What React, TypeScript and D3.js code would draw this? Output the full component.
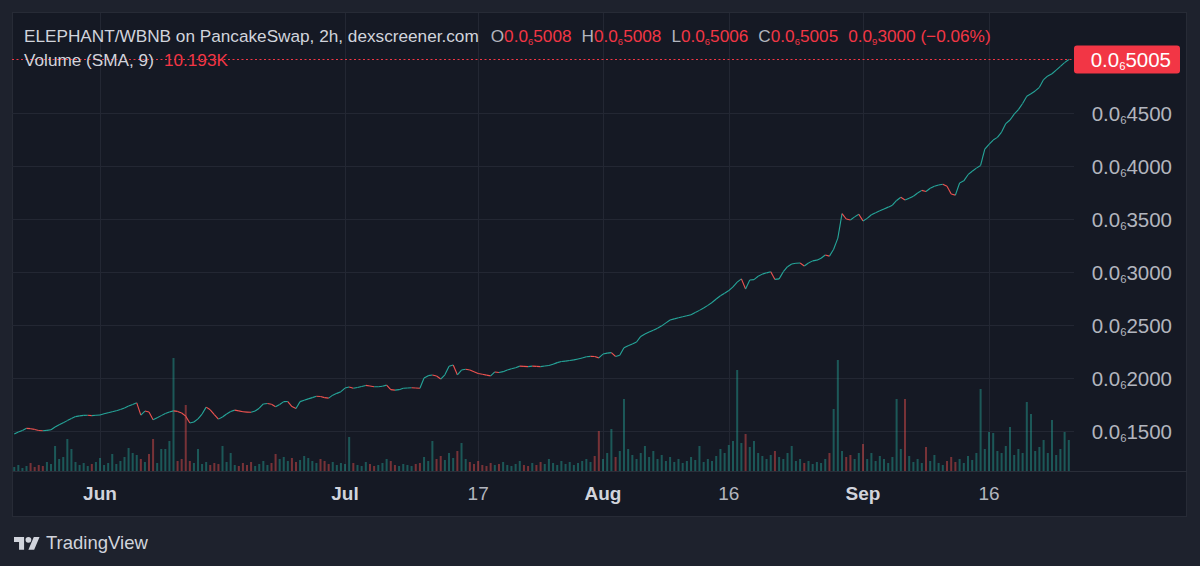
import React from "react";
import * as d3 from "d3";

// 12h closes, in units of 0.0₆ (i.e. 1e-10 BNB), starting May 21 12:00
const closes = [
  1472, 1490, 1505, 1525, 1522, 1515, 1505, 1502, 1506, 1512,
  1538, 1558, 1577, 1598, 1618, 1636, 1643, 1647, 1648, 1645,
  1648, 1651, 1662, 1673, 1682, 1691, 1702, 1718, 1735, 1751,
  1766, 1650, 1688, 1680, 1606, 1625, 1645, 1665, 1680, 1690,
  1685, 1670, 1640, 1575, 1585, 1615, 1660, 1725, 1700, 1655,
  1612, 1632, 1660, 1684, 1697, 1690, 1682, 1678, 1677, 1688,
  1715, 1755, 1760, 1752, 1728, 1750, 1777, 1778, 1730, 1712,
  1777, 1790, 1803, 1815, 1828, 1826, 1815, 1810, 1838, 1855,
  1871, 1905, 1915, 1903, 1910, 1920, 1930, 1925, 1917, 1918,
  1922, 1933, 1890, 1886, 1890, 1903, 1906, 1908, 1905, 1903,
  2000, 2022, 2028, 2019, 1990, 2030, 2110, 2123, 2030, 2075,
  2082, 2075, 2058, 2042, 2036, 2027, 2020, 2057, 2052, 2060,
  2075, 2087, 2097, 2112, 2110, 2107, 2112, 2110, 2107, 2113,
  2118, 2129, 2145, 2155, 2159, 2165, 2171, 2180, 2189, 2200,
  2204, 2203, 2190, 2226, 2235, 2239, 2203, 2215, 2285, 2305,
  2320, 2340, 2392, 2415, 2433, 2450, 2470, 2492, 2520, 2547,
  2558, 2568, 2578, 2587, 2597, 2618, 2638, 2660, 2685, 2712,
  2745, 2776, 2800, 2825, 2860, 2905, 2935, 2840, 2925, 2928,
  2960, 2980, 2992, 3003, 2930, 2935, 3003, 3050, 3075, 3083,
  3085, 3057, 3085, 3105, 3112, 3130, 3160, 3150, 3215, 3320,
  3550, 3500, 3491, 3520, 3545, 3482, 3506, 3540, 3560, 3577,
  3595, 3612, 3630, 3675, 3705, 3680, 3695, 3715, 3745, 3770,
  3760, 3790, 3808, 3821, 3828, 3808, 3735, 3725, 3840, 3860,
  3918, 3950, 3980, 4005, 4160, 4205, 4245, 4270, 4320, 4400,
  4434, 4490, 4532, 4590, 4658, 4682, 4708, 4742, 4815, 4850,
  4870, 4905, 4940, 4975, 5005,
];

// volume per 12h bucket, in K
const volumes = [
  4, 6, 3, 5, 8, 4, 6, 5, 9, 7,
  25, 12, 14, 32, 22, 9, 6, 8, 5, 7,
  9, 13, 6, 8, 17, 7, 10, 14, 23, 18,
  16, 12, 9, 17, 32, 8, 22, 22, 30, 113,
  10, 12, 66, 10, 8, 22, 7, 9, 6, 8,
  7, 25, 9, 18, 6, 5, 8, 6, 9, 5,
  7, 10, 6, 8, 17, 12, 14, 10, 13, 9,
  11, 15, 13, 10, 8, 12, 10, 7, 9, 6,
  8, 7, 34, 8, 6, 5, 9, 7, 5, 6,
  8, 12, 10, 6, 5, 7, 6, 5, 7, 8,
  14, 10, 30, 12, 15, 11, 18, 13, 20, 28,
  12, 9, 7, 10, 6, 5, 8, 6, 7, 9,
  6, 5, 7, 10, 6, 5, 8, 6, 9, 7,
  12, 8, 6, 10, 7, 9, 6, 8, 10, 12,
  9, 15, 40, 12, 18, 42, 14, 20, 72, 22,
  16, 12, 18, 25, 14, 20, 12, 16, 10, 14,
  9, 12, 8, 10, 14, 11, 25, 9, 12, 10,
  15, 22, 18, 26, 30, 101, 28, 37, 24, 30,
  18, 15, 12, 16, 20, 14, 12, 18, 25, 10,
  12, 8, 10, 7, 9, 8, 12, 18, 62, 111,
  20, 14, 16, 12, 18, 27, 12, 18, 10, 15,
  12, 8, 14, 72, 22, 72, 15, 9, 12, 8,
  24, 10, 16, 8, 6, 10, 14, 9, 12, 8,
  15, 11, 18, 82, 22, 39, 38, 20, 18, 25,
  44, 16, 22, 18, 69, 57, 20, 24, 31, 18,
  51, 16, 22, 39, 31,
];

const priceTicks = [1500, 2000, 2500, 3000, 3500, 4000, 4500];
const timeTicks = [
  new Date(2023, 5, 1),
  new Date(2023, 6, 1),
  new Date(2023, 6, 17),
  new Date(2023, 7, 1),
  new Date(2023, 7, 16),
  new Date(2023, 8, 1),
  new Date(2023, 8, 16),
];
const timeTickLabels = ["Jun", "Jul", "17", "Aug", "16", "Sep", "16"];
const monthTicks = [true, true, false, true, false, true, false];

const title = "ELEPHANT/WBNB on PancakeSwap, 2h, dexscreener.com";
const ohlcKeys = ["O", "H", "L", "C"];
const ohlcValues = [5008, 5008, 5006, 5005];
const change = { sub: "9", digits: "3000", pct: " (−0.06%)" };
const volumeLabel = "Volume (SMA, 9)";
const volumeSma = "10.193K";

const UP = "#26a69a";
const DOWN = "#ef5350";
const RED = "#f23645";
const TEXT = "#d1d4dc";
const AXIS_TEXT = "#b2b5be";
const GRID = "#232733";
const FONT = "'Liberation Sans', Arial, sans-serif";

// "0.0₆4500" style number
function subNumber(sub: string, digits: string | number, fs: number, key: string) {
  return [
    <tspan key={key + "a"}>0.0</tspan>,
    <tspan key={key + "b"} fontSize={fs * 0.55} dy={fs * 0.15}>{sub}</tspan>,
    <tspan key={key + "c"} dy={-fs * 0.15}>{digits}</tspan>,
  ];
}

export default function App() {
  const start = new Date(2023, 4, 21, 12);
  const dates = closes.map((_, i) => d3.timeHour.offset(start, 12 * i));

  // bar-index spacing of TradingView, pinned at the month/half-month ticks
  const x = d3
    .scaleTime()
    .domain([timeTicks[0], timeTicks[1], timeTicks[3], timeTicks[5], timeTicks[6]])
    .range([100, 345, 603, 863, 989]);
  const y = d3.scaleLinear().domain([1500, 4500]).range([431, 113]);
  const yVol = d3.scaleLinear().domain([0, 120]).range([471, 351]);

  const plotLeft = 12;
  const plotRight = 1074;
  const line = d3.line<[number, number]>();
  const last = closes[closes.length - 1];
  const lastY = y(last);
  const dotY = Math.round(lastY) + 0.5;

  return (
    <div style={{ position: "absolute", left: 0, top: 0 }}>
      <svg width={1200} height={566} style={{ display: "block" }} fontFamily={FONT}>
        <rect width={1200} height={566} fill="#1e222d" />
        <rect x={12.5} y={12.5} width={1174} height={504} fill="#151924" stroke="#272b36" />

        {/* grid */}
        {priceTicks.map((t) => (
          <line key={"h" + t} x1={plotLeft} x2={plotRight} y1={Math.round(y(t)) + 0.5} y2={Math.round(y(t)) + 0.5} stroke={GRID} />
        ))}
        {timeTicks.map((t, i) => (
          <line key={"v" + i} x1={Math.round(x(t)) + 0.5} x2={Math.round(x(t)) + 0.5} y1={13} y2={471} stroke={GRID} />
        ))}

        {/* volume */}
        {volumes.map((v, i) => {
          const up = i === 0 || closes[i] >= closes[i - 1];
          const cx = x(dates[i]);
          return (
            <rect
              key={"vol" + i}
              x={cx - 1}
              width={2}
              y={yVol(v)}
              height={yVol(0) - yVol(v)}
              fill={up ? "rgba(38,166,154,0.45)" : "rgba(239,83,80,0.45)"}
            />
          );
        })}

        {/* price */}
        {closes.slice(1).map((c, j) => {
          const i = j + 1;
          const d = line([
            [x(dates[i - 1]), y(closes[i - 1])],
            [x(dates[i]), y(c)],
          ]);
          return (
            <path key={"p" + i} d={d || ""} fill="none" stroke={c >= closes[i - 1] ? UP : DOWN} strokeWidth={1.1} />
          );
        })}

        {/* last price line */}
        <line x1={plotLeft} x2={plotRight} y1={dotY} y2={dotY} stroke={RED} strokeDasharray="2 2.5" />

        {/* time axis */}
        <line x1={12} x2={1187} y1={471.5} y2={471.5} stroke="#2a2e39" />
        {timeTicks.map((t, i) => (
          <text
            key={"tl" + i}
            x={x(t)}
            y={500}
            textAnchor="middle"
            fontSize={19}
            fontWeight={monthTicks[i] ? "bold" : "normal"}
            fill={monthTicks[i] ? TEXT : AXIS_TEXT}
          >
            {timeTickLabels[i]}
          </text>
        ))}

        {/* price axis */}
        {priceTicks.map((t) => (
          <text key={"pl" + t} x={1172} y={y(t) + 7.5} textAnchor="end" fontSize={20.5} fill={AXIS_TEXT}>
            {subNumber("6", t, 20.5, "pl" + t)}
          </text>
        ))}
        <rect x={1074} y={lastY - 14} width={106} height={28} rx={3} fill={RED} />
        <text x={1171} y={lastY + 7.5} textAnchor="end" fontSize={20.5} fill="#ffffff">
          {subNumber("6", last, 20.5, "last")}
        </text>

        {/* legend */}
        <text x={24} y={42} fontSize={17.2} fill={TEXT}>
          <tspan>{title}</tspan>
          {ohlcKeys.map((k, j) => [
            <tspan key={"k" + j} dx={j === 0 ? 12 : 10} fill={AXIS_TEXT}>{k}</tspan>,
            <tspan key={"v" + j} fill={RED}>{subNumber("6", ohlcValues[j], 17.2, "o" + j)}</tspan>,
          ])}
          <tspan dx={10} fill={RED}>
            {subNumber(change.sub, change.digits, 17.2, "chg")}
            <tspan>{change.pct}</tspan>
          </tspan>
        </text>
        <text x={24} y={66} fontSize={17.2} fill={TEXT}>
          {volumeLabel}
          <tspan dx={10} fill={RED}>{volumeSma}</tspan>
        </text>

        {/* TradingView logo */}
        <g transform="translate(14,534) scale(0.72)" fill={TEXT}>
          <path d="M14 22H7V11H0V4h14v18zM28 22h-8l7.5-18h8L28 22z" />
          <circle cx={20} cy={8} r={4} />
        </g>
        <text x={46} y={549} fontSize={18.5} fill={TEXT}>TradingView</text>
      </svg>
    </div>
  );
}
